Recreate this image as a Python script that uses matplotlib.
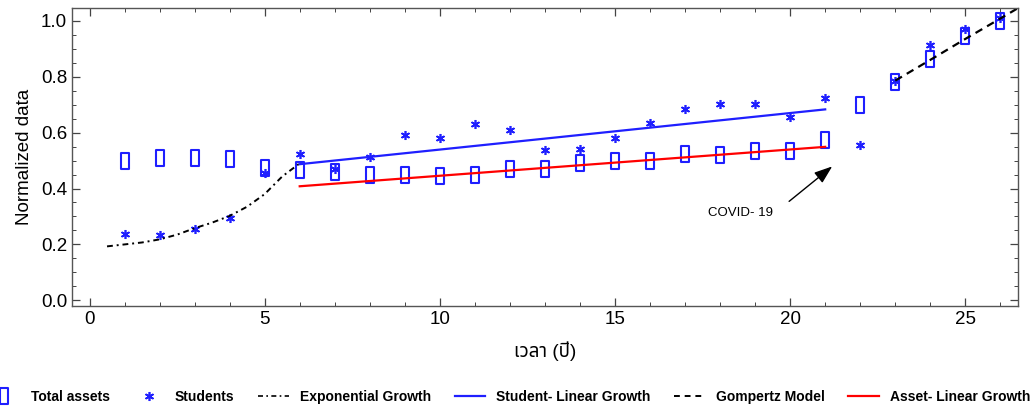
import matplotlib
matplotlib.use("Agg")
import matplotlib.pyplot as plt
from matplotlib.path import Path
from matplotlib.lines import Line2D
from matplotlib.ticker import MultipleLocator

years = list(range(1, 27))
total_assets = [0.50, 0.51, 0.51, 0.505, 0.475, 0.465, 0.46, 0.45, 0.45, 0.445,
                0.45, 0.47, 0.47, 0.49, 0.50, 0.50, 0.525, 0.52, 0.535, 0.535,
                0.575, 0.70, 0.78, 0.865, 0.945, 1.0]
students = [0.236, 0.232, 0.254, 0.296, 0.454, 0.525, 0.468, 0.514, 0.59, 0.58,
            0.632, 0.61, 0.536, 0.543, 0.582, 0.636, 0.686, 0.704, 0.704, 0.654,
            0.725, 0.557, 0.786, 0.914, 0.97, 1.01]

exp_x = [0.5, 1.0, 1.5, 2.0, 2.5, 3.0, 3.5, 4.0, 4.5, 5.0, 5.5, 6.0]
exp_y = [0.193, 0.200, 0.207, 0.218, 0.235, 0.258, 0.278, 0.302, 0.335, 0.380, 0.443, 0.49]

student_lin_x = [6, 21]
student_lin_y = [0.487, 0.683]
asset_lin_x = [6, 21]
asset_lin_y = [0.408, 0.549]

gomp_x = [23, 24, 25, 26, 26.5]
gomp_y = [0.786, 0.860, 0.935, 1.008, 1.045]

xticks = [0, 5, 10, 15, 20, 25]
yticks = [0.0, 0.2, 0.4, 0.6, 0.8, 1.0]

BLUE = "#1f1fff"
font_main = ["Liberation Sans", "DejaVu Sans"]
font_thai = ["Liberation Sans", "Noto Sans Thai", "Sarabun", "Anuphan", "Bai Jamjuree",
             "DejaVu Sans"]

plt.rcParams["font.family"] = font_main

fig = plt.figure(figsize=(10.36, 4.09), dpi=100)
ax = fig.add_axes([0.0695, 0.252, 0.913, 0.728])

rect = Path([(-0.5, -1), (0.5, -1), (0.5, 1), (-0.5, 1), (-0.5, -1)],
            [Path.MOVETO, Path.LINETO, Path.LINETO, Path.LINETO, Path.CLOSEPOLY])

ax.plot(years, total_assets, linestyle="none", marker=rect, markersize=12,
        markerfacecolor="none", markeredgecolor=BLUE, markeredgewidth=1.5)
ax.plot(years, students, linestyle="none", marker=(6, 2, 0), markersize=6.5,
        color=BLUE, markeredgewidth=1.2)
ax.plot(exp_x, exp_y, color="black", linestyle=(0, (3, 2, 1, 2)), linewidth=1.4)
ax.plot(student_lin_x, student_lin_y, color=BLUE, linewidth=1.6)
ax.plot(gomp_x, gomp_y, color="black", linestyle=(0, (3.5, 2.5)), linewidth=1.6)
ax.plot(asset_lin_x, asset_lin_y, color="red", linewidth=1.6)

ax.annotate("", xy=(21.2, 0.479), xytext=(19.97, 0.354),
            arrowprops=dict(arrowstyle="-|>,head_length=1.1,head_width=0.4",
                            color="black", lw=1.0, shrinkA=0, shrinkB=0))
ax.text(18.57, 0.313, "COVID- 19", fontsize=9.5, ha="center", va="center")

ax.set_xlim(-0.5, 26.5)
ax.set_ylim(-0.02, 1.045)
ax.set_xticks(xticks)
ax.set_yticks(yticks)
ax.set_yticklabels([f"{v:.1f}" for v in yticks])
ax.xaxis.set_minor_locator(MultipleLocator(1))
ax.yaxis.set_minor_locator(MultipleLocator(0.05))
ax.tick_params(which="both", direction="in", top=True, right=True, labelsize=13.5,
               color="#444444")
ax.tick_params(which="major", length=6, width=0.9)
ax.tick_params(which="minor", length=3, width=0.7)
for s in ax.spines.values():
    s.set_color("#555555")
    s.set_linewidth(1.0)

ax.set_ylabel("Normalized data", fontsize=13.5, labelpad=6)
ax.set_xlabel("เวลา (ปี)", fontsize=13.5, family=font_thai, labelpad=10)

handles = [
    Line2D([], [], linestyle="none", marker=rect, markersize=12, markerfacecolor="none",
           markeredgecolor=BLUE, markeredgewidth=1.5),
    Line2D([], [], linestyle="none", marker=(6, 2, 0), markersize=6.5, color=BLUE,
           markeredgewidth=1.2),
    Line2D([], [], color="black", linestyle=(0, (3, 2, 1, 2)), linewidth=1.2),
    Line2D([], [], color=BLUE, linewidth=1.6),
    Line2D([], [], color="black", linestyle=(0, (3, 2.5)), linewidth=1.4),
    Line2D([], [], color="red", linewidth=1.6),
]
labels = ["Total assets", "Students", "Exponential Growth", "Student- Linear Growth",
          "Gompertz Model", "Asset- Linear Growth"]
fig.legend(handles, labels, loc="center", bbox_to_anchor=(0.492, 0.03), ncol=6,
           frameon=False, prop=dict(family=font_main, weight="bold", size=10),
           handlelength=2.2, columnspacing=1.7, handletextpad=0.8, borderpad=0.1,
           borderaxespad=0.0)

fig.savefig("out.png", dpi=100)
